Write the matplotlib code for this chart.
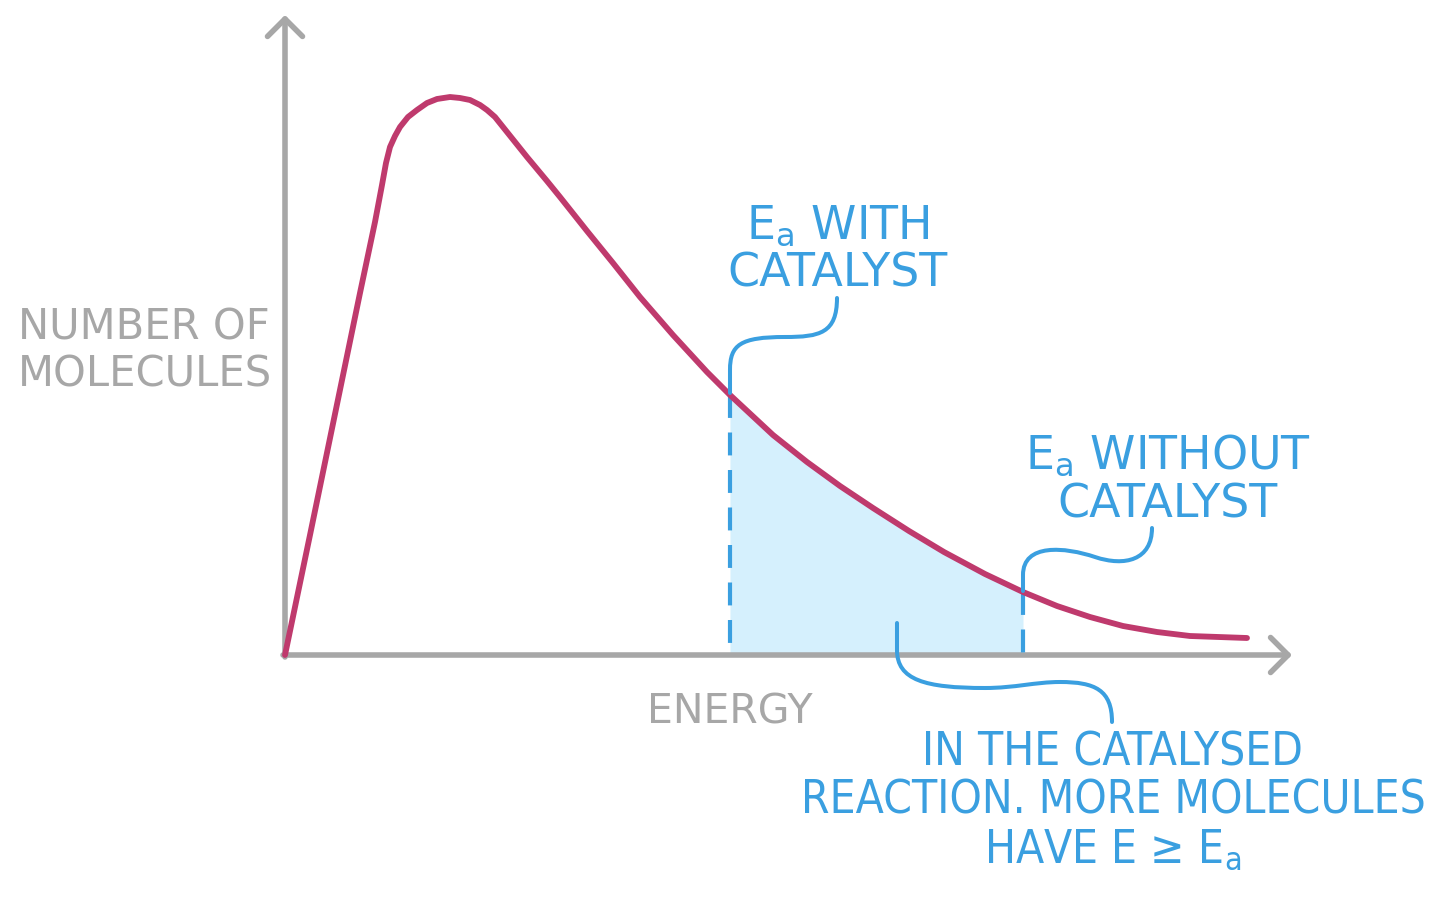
import numpy as np
import matplotlib
matplotlib.use("Agg")
import matplotlib.pyplot as plt
from matplotlib.path import Path
from matplotlib.patches import PathPatch

# ---- data (arbitrary units) ----
energy = [0.00, 0.25, 0.50, 0.75, 0.90, 0.97, 1.01, 1.05, 1.10, 1.15, 1.23,
          1.32, 1.42, 1.52, 1.65, 1.75, 1.85, 1.95, 2.02, 2.10, 2.18, 2.30,
          2.42, 2.62, 2.75, 3.02, 3.28, 3.55, 3.88, 4.22, 4.45, 4.88, 5.22,
          5.55, 5.88, 6.24, 6.59, 7.00, 7.38, 7.72, 8.05, 8.38, 8.72, 9.05,
          9.62]
molecules = [0.00, 1.20, 2.41, 3.62, 4.33, 4.70, 4.92, 5.08, 5.19, 5.28, 5.38,
             5.45, 5.52, 5.56, 5.58, 5.57, 5.55, 5.50, 5.45, 5.38, 5.28, 5.13,
             4.98, 4.74, 4.58, 4.24, 3.92, 3.58, 3.20, 2.83, 2.60, 2.20, 1.93,
             1.69, 1.47, 1.24, 1.03, 0.81, 0.63, 0.49, 0.38, 0.29, 0.23, 0.19,
             0.17]
ea_with_catalyst = 4.45
ea_without_catalyst = 7.38

x_label = "ENERGY"
y_label = "NUMBER OF\nMOLECULES"
label_with = "E$_\\mathregular{a}$ WITH\nCATALYST"
label_without = "E$_\\mathregular{a}$ WITHOUT\nCATALYST"
label_note = "IN THE CATALYSED\nREACTION. MORE MOLECULES\nHAVE E \u2265 E$_\\mathregular{a}$"

# ---- styles ----
GRAY = "#a7a7a7"
CRIMSON = "#bf3a6d"
BLUE = "#3a9fe0"
FILL = "#d5f0fd"
FONT = ["DejaVu Sans"]

fig = plt.figure(figsize=(14.4, 9.01), dpi=100)
ax = fig.add_axes([0, 0, 1, 1])
ax.set_xlim(-2.85, 11.55)
ax.set_ylim(-2.46, 6.55)
ax.axis("off")

E = np.array(energy)
N = np.array(molecules)

# shaded area between the two activation energies
mask = (E >= ea_with_catalyst) & (E <= ea_without_catalyst)
ax.fill_between(E, N, 0, where=mask, color=FILL, lw=0, zorder=1)

# axes arrows
arrow_kw = dict(arrowstyle="->,head_length=0.42,head_width=0.42", color=GRAY,
                lw=4.0, mutation_scale=30, shrinkA=0, shrinkB=0,
                capstyle="round", joinstyle="round")
ax.annotate("", xy=(0, 6.40), xytext=(0, -0.02), arrowprops=arrow_kw, zorder=2)
ax.annotate("", xy=(10.07, 0), xytext=(-0.02, 0), arrowprops=arrow_kw, zorder=2)

# dashed activation-energy lines
for ea in (ea_with_catalyst, ea_without_catalyst):
    top = np.interp(ea, E, N)
    ax.plot([ea, ea], [top, 0], color=BLUE, lw=3.0, ls=(0, (5.5, 3.5)),
            solid_capstyle="butt", zorder=3)

# distribution curve
ax.plot(E, N, color=CRIMSON, lw=4.2, solid_capstyle="round",
        solid_joinstyle="round", zorder=4)

# leader lines (annotation connectors)
def leader(verts, codes):
    ax.add_patch(PathPatch(Path(verts, codes), fill=False, edgecolor=BLUE,
                           lw=2.9, capstyle="round", joinstyle="round", zorder=5))

M, C, L = Path.MOVETO, Path.CURVE4, Path.LINETO
leader([(5.52, 3.57), (5.52, 3.22), (5.35, 3.18), (5.00, 3.18),
        (4.55, 3.18), (4.45, 3.10), (4.45, 2.85), (4.45, 2.62)],
       [M, C, C, C, C, C, C, L])
leader([(8.67, 1.27), (8.67, 0.95), (8.40, 0.88), (8.10, 0.98),
        (7.80, 1.08), (7.38, 1.12), (7.38, 0.80), (7.38, 0.64)],
       [M, C, C, C, C, C, C, L])
leader([(6.12, 0.32), (6.12, 0.05),
        (6.12, -0.25), (6.40, -0.33), (7.00, -0.33),
        (7.30, -0.33), (7.50, -0.27), (7.75, -0.27),
        (8.10, -0.27), (8.27, -0.35), (8.27, -0.67)],
       [M, L, C, C, C, C, C, C, C, C, C])

# texts
ax.text(-2.67, 3.04, y_label, color=GRAY, fontsize=30, family=FONT,
        ha="left", va="center", linespacing=1.18)
ax.text(4.45, -0.58, x_label, color=GRAY, fontsize=29.5, family=FONT,
        ha="center", va="center")
ax.text(5.53, 4.05, label_with, color=BLUE, fontsize=33, family=FONT,
        ha="center", va="center", multialignment="center", linespacing=1.1)
ax.text(8.83, 1.75, label_without, color=BLUE, fontsize=33, family=FONT,
        ha="center", va="center", multialignment="center", linespacing=1.1)
ax.text(8.28, -1.46, label_note, color=BLUE, fontsize=33, family=FONT,
        fontstretch="condensed", ha="center", va="center",
        multialignment="center", linespacing=1.1)

fig.savefig("out.png", dpi=100, facecolor="white")
